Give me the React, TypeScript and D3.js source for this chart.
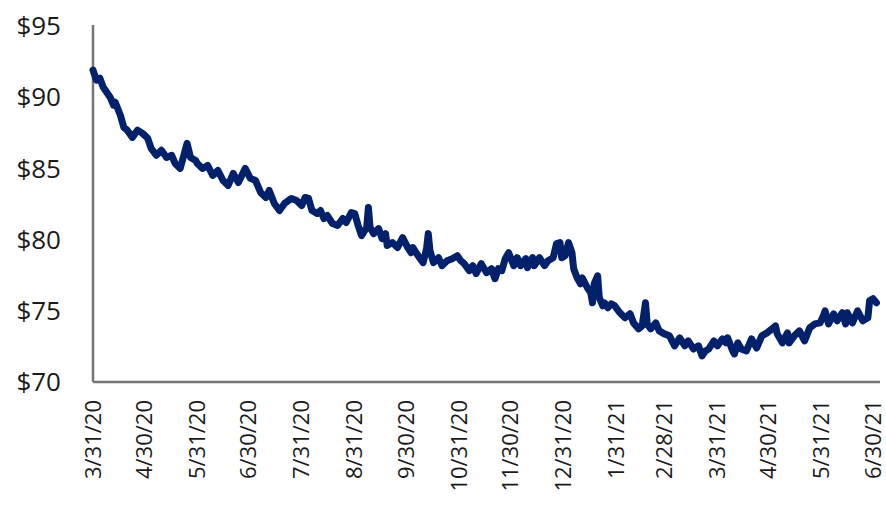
import React, { useEffect, useRef } from "react";
import * as d3 from "d3";

// days after 3/31/20 and the price
const dayOffsets = [
  0, 2, 4, 6, 8, 10, 12, 13, 16, 18, 20, 23, 26, 29, 32, 34, 37, 40, 43, 46, 48, 51, 55, 57, 60,
  61, 64, 67, 70, 73, 76, 79, 82, 85, 89, 92, 95, 98, 101, 103, 106, 109, 112, 116, 119, 122,
  124, 126, 128, 131, 133, 135, 137, 140, 143, 146, 148, 151, 153, 155, 157, 160, 161, 162, 164,
  167, 169, 171, 172, 175, 178, 181, 184, 186, 187, 190, 193, 195, 196, 197, 199, 202, 204, 207,
  210, 213, 215, 217, 220, 222, 224, 227, 230, 233, 235, 237, 239, 241, 243, 246, 248, 250, 253,
  254, 257, 258, 261, 264, 266, 269, 271, 273, 274, 276, 278, 280, 281, 283, 285, 286, 289, 291,
  292, 293, 295, 296, 298, 299, 301, 303, 305, 308, 311, 314, 316, 319, 321, 323, 324, 326, 329,
  331, 334, 337, 340, 343, 346, 348, 351, 354, 356, 358, 360, 363, 365, 368, 370, 371, 374, 375,
  377, 379, 382, 385, 388, 391, 394, 397, 399, 400, 403, 406, 407, 410, 413, 416, 419, 422, 425,
  427, 428, 430, 433, 435, 438, 440, 441, 444, 447, 450, 453, 454, 456, 458,
];

const prices = [
  91.9, 91.2, 91.34, 90.7, 90.35, 90.0, 89.44, 89.65, 88.73, 87.89, 87.68, 87.18, 87.68, 87.46,
  87.11, 86.41, 85.92, 86.27, 85.77, 85.92, 85.35, 85.0, 86.76, 85.77, 85.56,
  85.35, 85.0, 85.21, 84.51, 84.86, 84.15, 83.8, 84.65, 84.01, 85.0, 84.3, 84.15, 83.31, 82.96,
  83.45, 82.54, 82.04, 82.54, 82.89, 82.75, 82.39,
  82.96, 82.89, 82.04, 81.83, 82.04, 81.48, 81.69, 81.13, 80.99, 81.48, 81.2, 81.9, 81.83, 80.99,
  80.28, 80.85, 82.25, 80.85, 80.42, 80.77, 80.07, 80.42, 79.58, 79.79, 79.44, 80.14, 79.44,
  79.08, 79.44, 78.87, 78.38, 79.37, 80.42, 79.23, 78.38, 78.73, 78.17, 78.52, 78.66, 78.87,
  78.52, 78.31, 77.82, 78.17, 77.61, 78.31, 77.68, 77.96, 77.25, 77.96, 77.82, 78.66, 79.08,
  78.17, 78.73, 78.17, 78.66, 78.03, 78.73, 78.17, 78.73, 78.17, 78.52, 78.73, 79.72, 79.79,
  78.73, 78.87, 79.79, 79.08, 77.96, 77.32, 76.9, 77.32, 76.62, 76.27, 75.56, 76.9, 77.46, 75.92,
  75.35, 75.56, 75.21, 75.49, 75.35, 74.86, 74.51, 74.79, 74.15, 73.73, 73.94, 75.56, 74.08,
  73.73, 74.15, 73.59, 73.38, 73.24, 72.54, 73.1, 72.54, 72.89, 72.32, 72.54, 71.83, 72.18, 72.32,
  72.89, 72.54, 73.03, 72.75, 73.1, 72.18, 71.97, 72.75, 72.32, 72.18, 73.03, 72.39, 73.24, 73.45,
  73.73, 73.94, 73.38, 72.75, 73.45, 72.75, 73.24, 73.59, 72.89, 73.8, 74.08, 74.15, 74.65, 75.0,
  74.08, 74.79, 74.3, 74.86, 74.08, 74.86, 74.15, 75.0, 74.3, 74.51, 75.7, 75.85, 75.56,
];

const tickLabels = [
  "3/31/20", "4/30/20", "5/31/20", "6/30/20", "7/31/20", "8/31/20", "9/30/20", "10/31/20",
  "11/30/20", "12/31/20", "1/31/21", "2/28/21", "3/31/21", "4/30/21", "5/31/21", "6/30/21",
];

const yTicks = [70, 75, 80, 85, 90, 95];

export default function App() {
  const ref = useRef<SVGSVGElement>(null);

  useEffect(() => {
    const width = 886;
    const height = 505;
    const parse = d3.timeParse("%m/%d/%y");
    const start = parse(tickLabels[0]) as Date;
    const end = parse(tickLabels[tickLabels.length - 1]) as Date;

    const x = d3.scaleTime().domain([start, end]).range([93, 873]);
    const y = d3.scaleLinear().domain([70, 95]).range([382, 26]);

    const svg = d3.select(ref.current).attr("width", width).attr("height", height);
    svg.selectAll("*").remove();

    const data = dayOffsets.map((d, i) => ({ date: d3.timeDay.offset(start, d), value: prices[i] }));

    // axes lines
    svg
      .append("line")
      .attr("x1", x(start))
      .attr("x2", x(start))
      .attr("y1", 25)
      .attr("y2", y(70))
      .attr("stroke", "#767676")
      .attr("stroke-width", 2.5);
    svg
      .append("line")
      .attr("x1", x(start))
      .attr("x2", 880)
      .attr("y1", y(70))
      .attr("y2", y(70))
      .attr("stroke", "#767676")
      .attr("stroke-width", 2.5);

    svg
      .append("g")
      .selectAll("text")
      .data(yTicks)
      .join("text")
      .attr("x", 61)
      .attr("y", (d) => y(d))
      .attr("dy", "0.35em")
      .attr("text-anchor", "end")
      .attr("font-family", "Open Sans")
      .attr("font-size", 26)
      .attr("fill", "#1a1a1a")
      .text((d) => `$${d}`);

    svg
      .append("g")
      .selectAll("text")
      .data(tickLabels)
      .join("text")
      .attr("transform", (d) => `translate(${x(parse(d) as Date)},400) rotate(-90)`)
      .attr("dy", "0.35em")
      .attr("text-anchor", "end")
      .attr("font-family", "Open Sans")
      .attr("font-size", 22)
      .attr("fill", "#1a1a1a")
      .text((d) => d);

    const line = d3
      .line<{ date: Date; value: number }>()
      .x((d) => x(d.date))
      .y((d) => y(d.value));

    svg
      .append("path")
      .datum(data)
      .attr("d", line)
      .attr("fill", "none")
      .attr("stroke", "#03216a")
      .attr("stroke-width", 7)
      .attr("stroke-linejoin", "round")
      .attr("stroke-linecap", "round");
  }, []);

  return (
    <div style={{ position: "absolute", left: 0, top: 0 }}>
      <svg ref={ref} style={{ display: "block" }} />
    </div>
  );
}
